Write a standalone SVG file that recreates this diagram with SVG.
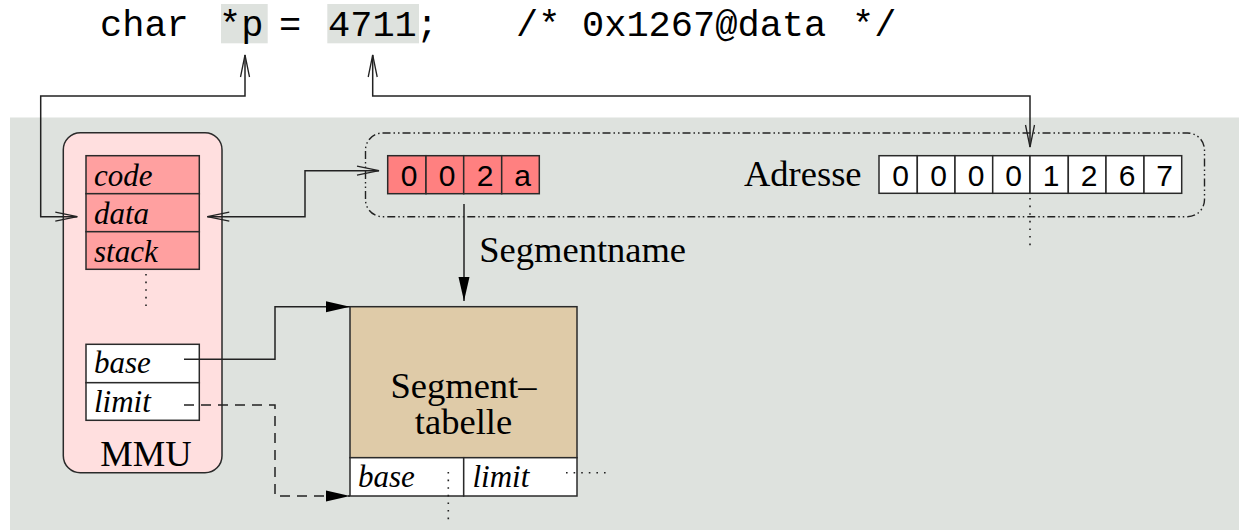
<svg xmlns="http://www.w3.org/2000/svg" width="1239" height="530" viewBox="0 0 1239 530">
<style>
.box{stroke:#2a2a2a;stroke-width:1.5}
.ln{fill:none;stroke:#222;stroke-width:1.5}
.dot{fill:none;stroke:#222;stroke-width:1.6;stroke-dasharray:1.6 6}
.dash{fill:none;stroke:#222;stroke-width:1.5;stroke-dasharray:10 7}
.serif{font-family:"Liberation Serif","Times New Roman",serif;font-size:36.5px;fill:#000}
.ital{font-family:"Liberation Serif","Times New Roman",serif;font-style:italic;font-size:31px;fill:#000}
.mono{font-family:"Liberation Mono","Courier New",monospace;font-size:37px;fill:#000}
.sans{font-family:"Liberation Sans",Arial,sans-serif;font-size:30px;fill:#000;text-anchor:middle}
</style>
<defs>
<marker id="open" markerUnits="userSpaceOnUse" markerWidth="24" markerHeight="12" refX="22" refY="5" orient="auto-start-reverse" overflow="visible">
<path d="M0,0.5 L22,5 L0,9.5" fill="none" stroke="#222" stroke-width="1.3"/>
</marker>
<marker id="fill" markerUnits="userSpaceOnUse" markerWidth="26" markerHeight="12" refX="24" refY="5.5" orient="auto" overflow="visible">
<path d="M0,0 L24,5.5 L0,11 Z" fill="#000"/>
</marker>
</defs>

<rect id="background" x="10" y="117.5" width="1229" height="412.5" fill="#dee2de"/>

<g id="code-line">
<rect x="221" y="4" width="46.7" height="39.3" fill="#dee2de"/>
<rect x="327.3" y="4" width="91.7" height="39.3" fill="#dee2de"/>
<text class="mono" y="36"><tspan x="100">char</tspan><tspan x="219">*p</tspan><tspan x="279">=</tspan><tspan x="328">4711</tspan><tspan x="416">;</tspan><tspan x="516">/*</tspan><tspan x="582">0x1267@data</tspan><tspan x="852">*/</tspan></text>
</g>

<g id="mmu">
<rect x="63.3" y="132.7" width="158.7" height="340" rx="17" fill="#ffdfdf" class="box"/>
<rect x="86" y="155.7" width="113.3" height="38" fill="#ffa0a0" class="box"/>
<rect x="86" y="193.7" width="113.3" height="38" fill="#ffa0a0" class="box"/>
<rect x="86" y="231.7" width="113.3" height="37.6" fill="#ffa0a0" class="box"/>
<text class="ital" x="94" y="186">code</text>
<text class="ital" x="94" y="223.5">data</text>
<text class="ital" x="94" y="261.5">stack</text>
<line class="dot" x1="146" y1="274" x2="146" y2="306"/>
<rect x="86" y="344.3" width="113.3" height="38.4" fill="#fff" class="box"/>
<rect x="86" y="382.7" width="113.3" height="37.6" fill="#fff" class="box"/>
<text class="ital" x="94" y="373.3">base</text>
<text class="ital" x="94" y="411.7">limit</text>
<text class="serif" x="146" y="465.7" text-anchor="middle">MMU</text>
</g>

<g id="address">
<rect x="365.5" y="133" width="839" height="83.7" rx="17" fill="none" stroke="#222" stroke-width="1.4" stroke-dasharray="8 3 1.5 3 1.5 3"/>
<g id="segment-name">
<rect x="387.7" y="155.7" width="38.3" height="38" fill="#ff8080" class="box"/>
<rect x="426" y="155.7" width="37.7" height="38" fill="#ff8080" class="box"/>
<rect x="463.7" y="155.7" width="38" height="38" fill="#ff8080" class="box"/>
<rect x="501.7" y="155.7" width="37.6" height="38" fill="#ff8080" class="box"/>
<text class="sans" y="186"><tspan x="409">0</tspan><tspan x="447">0</tspan><tspan x="485">2</tspan><tspan x="522.5">a</tspan></text>
</g>
<text class="serif" x="744" y="186">Adresse</text>
<g id="offset">
<rect x="879" y="155.7" width="38.3" height="37.6" fill="#fff" class="box"/>
<rect x="917.3" y="155.7" width="37.7" height="37.6" fill="#fff" class="box"/>
<rect x="955" y="155.7" width="37.7" height="37.6" fill="#fff" class="box"/>
<rect x="992.7" y="155.7" width="37.3" height="37.6" fill="#fff" class="box"/>
<rect x="1030" y="155.7" width="38.3" height="37.6" fill="#fff" class="box"/>
<rect x="1068.3" y="155.7" width="37.7" height="37.6" fill="#fff" class="box"/>
<rect x="1106" y="155.7" width="38" height="37.6" fill="#fff" class="box"/>
<rect x="1144" y="155.7" width="37.7" height="37.6" fill="#fff" class="box"/>
<text class="sans" y="186"><tspan x="900.5">0</tspan><tspan x="938.5">0</tspan><tspan x="976">0</tspan><tspan x="1013.5">0</tspan><tspan x="1051">1</tspan><tspan x="1089">2</tspan><tspan x="1127">6</tspan><tspan x="1164.5">7</tspan></text>
</g>
<line class="dot" x1="1030" y1="198" x2="1030" y2="248"/>
</g>

<g id="segment-table">
<rect x="350" y="306.7" width="227" height="151" fill="#dfcba8" class="box"/>
<rect x="350" y="457.7" width="113.7" height="38.3" fill="#fff" class="box"/>
<rect x="463.7" y="457.7" width="113.3" height="38.3" fill="#fff" class="box"/>
<text class="serif" x="463.5" y="398.3" text-anchor="middle">Segment–</text>
<text class="serif" x="463.5" y="434" text-anchor="middle">tabelle</text>
<text class="ital" x="358" y="486.7">base</text>
<text class="ital" x="472.5" y="486.7">limit</text>
<line class="dot" x1="448.3" y1="472" x2="448.3" y2="520"/>
<line class="dot" x1="566" y1="472.7" x2="608" y2="472.7"/>
</g>

<g id="connectors">
<path class="ln" d="M245,55 V96 H40.7 V216.7 H77.3" marker-start="url(#open)" marker-end="url(#open)"/>
<path class="ln" d="M372.7,55 V96 H1030 V147" marker-start="url(#open)" marker-end="url(#open)"/>
<path class="ln" d="M207.3,216.7 H305 V170.7 H379" marker-start="url(#open)" marker-end="url(#open)"/>
<path class="ln" d="M464,204 V301" marker-end="url(#fill)"/>
<text class="serif" x="479.3" y="261.7">Segmentname</text>
<path class="ln" d="M184,359.3 H275 V306.7 H350" marker-end="url(#fill)"/>
<path class="dash" d="M184,405 H275 V496 H350" marker-end="url(#fill)"/>
</g>
</svg>
